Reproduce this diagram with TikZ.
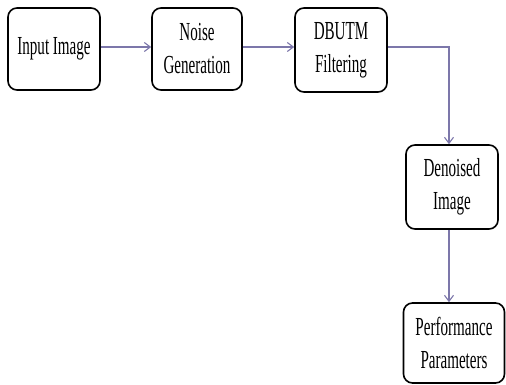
\documentclass[tikz,border=0pt]{standalone}
\usepackage{fontspec}
\setmainfont{Liberation Serif}[FakeStretch=0.58]
\usepackage{xcolor}
\usepackage{tikz}
\usetikzlibrary{arrows.meta,positioning,calc}
\definecolor{flowline}{HTML}{7C77AA}

\begin{document}
\begin{tikzpicture}[
  x=1pt, y=-1pt,
  stage_box/.style={draw=black, line width=1.6pt, fill=white, rounded corners=9pt, minimum width=92pt, minimum height=82pt, align=center, inner sep=2pt, font=\fontsize{26}{33}\selectfont},
  arr/.style      ={-{Straight Barb[length=6pt, width=9pt]}, line width=1.1pt, flowline},
]
  \useasboundingbox (0,0) rectangle (506,385);

  \node[stage_box]                                 (input)    at (54,49)    {Input Image};
  \node[stage_box, minimum width=90pt]             (noise)    at (197,49)   {Noise\\Generation};
  \node[stage_box, minimum height=84pt]            (dbutm)    at (341,50)   {DBUTM\\Filtering};
  \node[stage_box, minimum height=84pt]            (denoised) at (452,187)  {Denoised\\Image};
  \node[stage_box, minimum width=101pt, minimum height=80pt] (perf) at (454,343) {Performance\\Parameters};

  \coordinate (turn) at (449,47);

  \draw[arr] (input.east |- turn) -- (noise.west |- turn);
  \draw[arr] (noise.east |- turn) -- (dbutm.west |- turn);
  \draw[arr] (dbutm.east |- turn) -- (turn) -- (turn |- denoised.north);
  \draw[arr] (turn |- denoised.south) -- (turn |- perf.north);
\end{tikzpicture}
\end{document}
